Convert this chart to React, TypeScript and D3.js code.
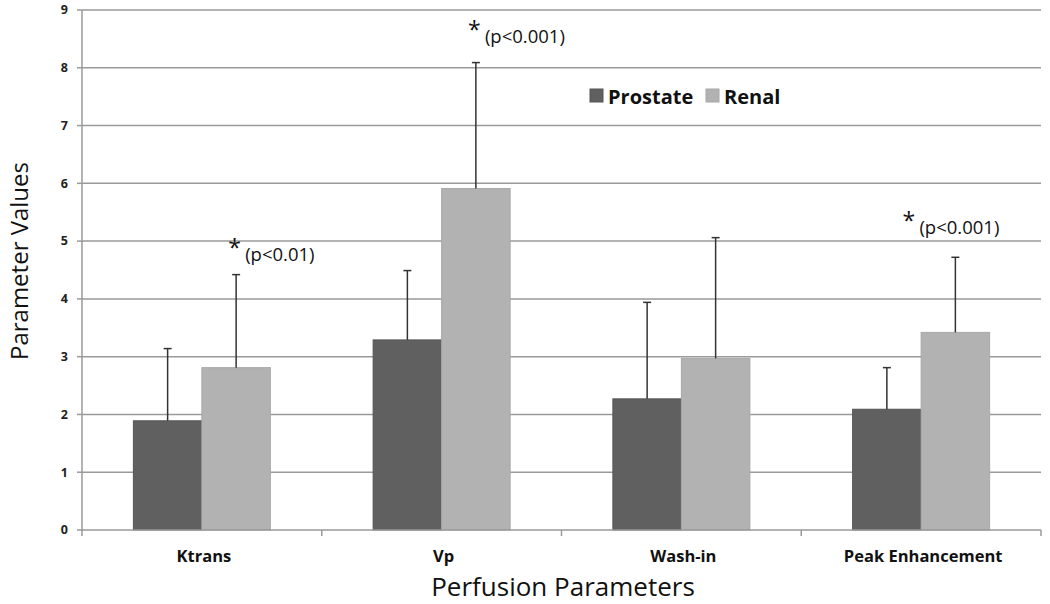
import * as d3 from "d3"

const categories = ["Ktrans", "Vp", "Wash-in", "Peak Enhancement"]
const seriesNames = ["Prostate", "Renal"]
const prostateMeans = [1.89, 3.29, 2.27, 2.09]
const prostateUpper = [3.14, 4.49, 3.94, 2.81]
const renalMeans = [2.81, 5.91, 2.97, 3.42]
const renalUpper = [4.42, 8.09, 5.06, 4.72]
const yTicks = [0, 1, 2, 3, 4, 5, 6, 7, 8, 9]
// significance notes, anchored in data units above the renal bar
const annotations = [
  { category: "Ktrans", level: 4.65, label: "(p<0.01)" },
  { category: "Vp", level: 8.43, label: "(p<0.001)" },
  { category: "Peak Enhancement", level: 5.12, label: "(p<0.001)" },
]
const annotationShift = [-8, -8, -53]

const colors = ["#606060", "#b2b2b2"]
const font = "'Open Sans', 'Noto Sans', sans-serif"

export default function App() {
  const width = 1050
  const height = 604
  const margin = { top: 10, right: 9, bottom: 74, left: 82 }

  const x = d3
    .scaleBand<string>()
    .domain(categories)
    .range([margin.left, width - margin.right])
    .paddingInner(0)
    .paddingOuter(0)

  const y = d3
    .scaleLinear()
    .domain([0, 9])
    .range([height - margin.bottom, margin.top])

  // two bars per group, gap of 150% of a bar width
  const barW = x.bandwidth() / (2 + 1.5)
  const series = [
    { name: seriesNames[0], means: prostateMeans, upper: prostateUpper },
    { name: seriesNames[1], means: renalMeans, upper: renalUpper },
  ]

  const barX = (cat: string, si: number) =>
    (x(cat) as number) + x.bandwidth() / 2 - barW + si * barW

  return (
    <div style={{ position: "fixed", left: 0, top: 0 }}>
      <svg width={width} height={height} style={{ display: "block", background: "#fff" }}>
        {/* grid lines */}
        {yTicks.slice(1).map((t) => (
          <line
            key={"g" + t}
            x1={margin.left}
            x2={width - margin.right}
            y1={y(t)}
            y2={y(t)}
            stroke="#9a9a9a"
            strokeWidth={1.5}
          />
        ))}

        {/* y axis */}
        <line x1={margin.left} x2={margin.left} y1={y(9)} y2={y(0)} stroke="#9a9a9a" strokeWidth={1.5} />
        {yTicks.map((t) => (
          <g key={"yt" + t}>
            <line x1={margin.left - 5} x2={margin.left} y1={y(t)} y2={y(t)} stroke="#9a9a9a" strokeWidth={1.5} />
            <text
              x={margin.left - 14}
              y={y(t)}
              dy="0.35em"
              textAnchor="end"
              fontFamily={font}
              fontWeight="bold"
              fontSize={12.5}
              fill="#222"
            >
              {t}
            </text>
          </g>
        ))}

        {/* bars */}
        {series.map((s, si) =>
          categories.map((c, ci) => (
            <rect
              key={s.name + c}
              x={barX(c, si)}
              y={y(s.means[ci])}
              width={barW}
              height={y(0) - y(s.means[ci])}
              fill={colors[si]}
              stroke={si === 0 ? "#555" : "#a8a8a8"}
              strokeWidth={1}
            />
          )),
        )}

        {/* error bars */}
        {series.map((s, si) =>
          categories.map((c, ci) => {
            const cx = barX(c, si) + barW / 2
            return (
              <g key={"e" + s.name + c} stroke="#333" strokeWidth={1.5}>
                <line x1={cx} x2={cx} y1={y(s.means[ci])} y2={y(s.upper[ci])} />
                <line x1={cx - 4} x2={cx + 4} y1={y(s.upper[ci])} y2={y(s.upper[ci])} />
              </g>
            )
          }),
        )}

        {/* x axis */}
        <line x1={margin.left} x2={width - margin.right} y1={y(0)} y2={y(0)} stroke="#9a9a9a" strokeWidth={1.5} />
        {categories.map((c) => (
          <line
            key={"xt" + c}
            x1={(x(c) as number) + x.bandwidth()}
            x2={(x(c) as number) + x.bandwidth()}
            y1={y(0)}
            y2={y(0) + 6}
            stroke="#9a9a9a"
            strokeWidth={1.5}
          />
        ))}
        <line x1={margin.left} x2={margin.left} y1={y(0)} y2={y(0) + 6} stroke="#9a9a9a" strokeWidth={1.5} />
        {categories.map((c) => (
          <text
            key={"xl" + c}
            x={(x(c) as number) + x.bandwidth() / 2 + 2}
            y={y(0) + 32}
            textAnchor="middle"
            fontFamily={font}
            fontWeight="bold"
            fontSize={16.5}
            fill="#111"
          >
            {c}
          </text>
        ))}

        {/* significance annotations */}
        {annotations.map((a, i) => {
          const sx = barX(a.category, 1) + barW / 2 + annotationShift[i]
          return (
            <g key={"a" + a.category} fontFamily={font} fill="#111">
              <text x={sx} y={y(a.level) - 5} fontSize={23}>
                *
              </text>
              <text x={sx + 17} y={y(a.level)} fontSize={18.5}>
                {a.label}
              </text>
            </g>
          )
        })}

        {/* legend */}
        <g fontFamily={font} fontWeight="bold" fontSize={20} fill="#111">
          <rect x={590} y={89} width={13} height={13} fill={colors[0]} stroke="#555" />
          <text x={608} y={104}>
            {seriesNames[0]}
          </text>
          <rect x={706} y={89} width={13} height={13} fill={colors[1]} stroke="#a8a8a8" />
          <text x={724} y={104}>
            {seriesNames[1]}
          </text>
        </g>

        {/* axis titles */}
        <text
          transform={`translate(28, 261) rotate(-90)`}
          textAnchor="middle"
          fontFamily={font}
          fontSize={24}
          fill="#111"
        >
          Parameter Values
        </text>
        <text
          x={563}
          y={596}
          textAnchor="middle"
          fontFamily={font}
          fontSize={26}
          fill="#111"
        >
          Perfusion Parameters
        </text>
      </svg>
    </div>
  )
}
